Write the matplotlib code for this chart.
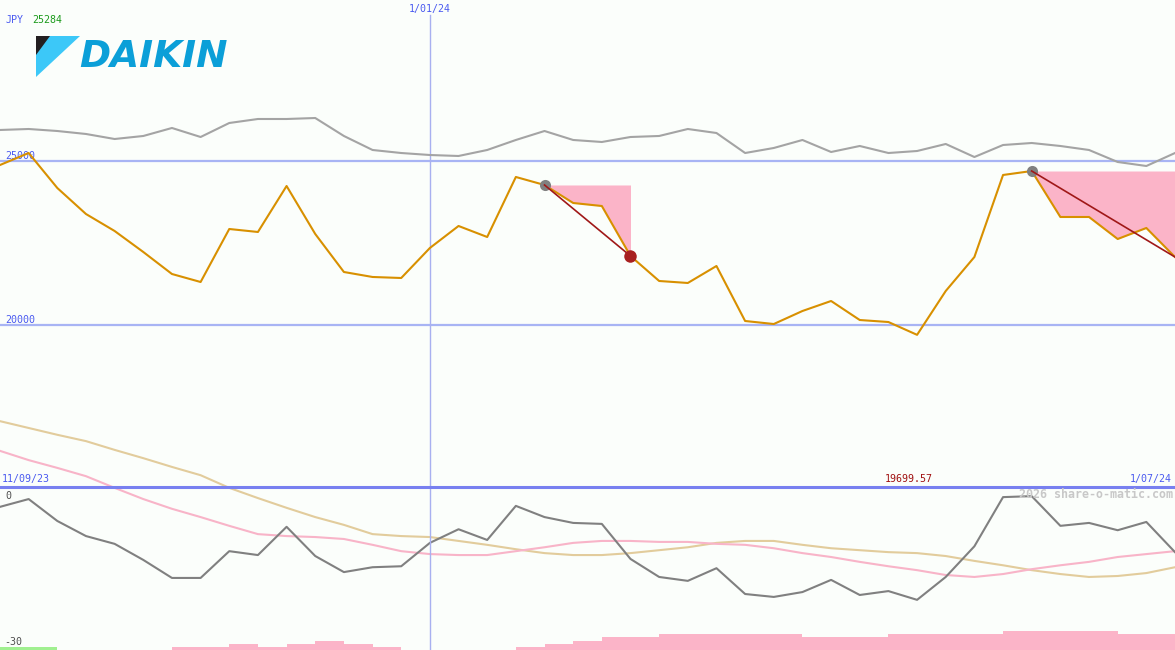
import numpy as np
import matplotlib
matplotlib.use("Agg")
from matplotlib import pyplot as plt
from matplotlib.lines import Line2D
from matplotlib.patches import Polygon

# weekly closes, Daikin (JPY), 11/09/23 .. 1/07/24
price = [24878, 25244, 24177, 23384, 22866, 22226, 21555, 21311, 22927, 22836,
         24238, 22775, 21616, 21464, 21433, 22348, 23019, 22683, 24513, 24269,
         23720, 23628, 22104, 21342, 21281, 21799, 20122, 20030, 20427, 20732,
         20152, 20091, 19700, 21037, 22073, 24574, 24695, 23293, 23293, 22622,
         22958, 22073]
# market index rebased to price scale
market = [25946, 25976, 25915, 25824, 25671, 25763, 26007, 25732, 26159, 26281,
          26281, 26311, 25763, 25336, 25244, 25183, 25153, 25336, 25641, 25915,
          25641, 25580, 25732, 25763, 25976, 25854, 25244, 25397, 25641, 25275,
          25458, 25244, 25305, 25519, 25122, 25488, 25549, 25458, 25336, 24970,
          24848, 25244]
# lower panel (%)
relative = [-1.2, 0.4, -4.1, -7.2, -8.8, -12.1, -15.8, -15.8, -10.3, -11.1,
            -5.3, -11.3, -14.6, -13.6, -13.4, -8.6, -5.8, -8.0, -1.0, -3.3,
            -4.5, -4.7, -11.9, -15.6, -16.4, -13.8, -19.1, -19.7, -18.7, -16.2,
            -19.3, -18.5, -20.3, -15.6, -9.3, 0.8, 1.0, -5.1, -4.5, -6.0,
            -4.3, -10.5]
ma_short = [10.3, 8.4, 6.8, 5.1, 2.7, 0.4, -1.6, -3.3, -5.1, -6.8,
            -7.2, -7.4, -7.8, -9.0, -10.3, -10.9, -11.1, -11.1, -10.3, -9.5,
            -8.6, -8.2, -8.2, -8.4, -8.4, -8.8, -9.0, -9.7, -10.7, -11.5,
            -12.5, -13.4, -14.2, -15.2, -15.6, -15.0, -14.0, -13.2, -12.5, -11.5,
            -10.9, -10.3]
ma_long = [16.4, 15.0, 13.6, 12.3, 10.5, 8.8, 7.0, 5.3, 2.7, 0.6,
           -1.4, -3.3, -4.9, -6.8, -7.2, -7.4, -8.2, -9.0, -9.9, -10.7,
           -11.1, -11.1, -10.7, -10.1, -9.5, -8.6, -8.2, -8.2, -9.0, -9.7,
           -10.1, -10.5, -10.7, -11.3, -12.3, -13.2, -14.2, -15.0, -15.6, -15.4,
           -14.8, -13.6]
volume = [1, 1, 0, 0, 0, 0, 1, 1, 2, 1,
          2, 3, 2, 1, 0, 0, 0, 0, 1, 2,
          3, 4, 4, 5, 5, 5, 5, 5, 4, 4,
          4, 5, 5, 5, 5, 6, 6, 6, 6, 5,
          5]
vol_up = [True, True] + [False] * 39

drawdowns = [(19, 22), (36, 41)]
low_label = "19699.57"
low_week = 32
year_week = 15
labels = {"start": "11/09/23", "end": "1/07/24", "year": "1/01/24"}

W, H = 1175, 650
bg = "#fbfefb"
blue_txt = "#4a5af0"
mono = "DejaVu Sans Mono"

fig = plt.figure(figsize=(W / 100, H / 100), dpi=100, facecolor=bg)
weeks = np.arange(len(price))

ax_vol = fig.add_axes([0, 0, 1, 1])
ax_rel = fig.add_axes([0, 0, 1, 1])
ax = fig.add_axes([0, 0, 1, 1])
for a in (ax_vol, ax_rel, ax):
    a.set_xlim(0, len(price) - 1)
    a.axis("off")
    a.patch.set_alpha(0)
ax_vol.set_ylim(0, 206)
ax_rel.set_ylim(-30.6, 102.9)
ax.set_ylim(10091, 29909)

# volume bars
ax_vol.bar(np.arange(len(volume)), volume, width=1.0, align="edge",
           color=["#a0f090" if u else "#fbb4c8" for u in vol_up], linewidth=0)

# lower panel
ax_rel.plot(weeks, ma_long, color="#e2cc9c", lw=1.5)
ax_rel.plot(weeks, ma_short, color="#f8b4c8", lw=1.5)
ax_rel.plot(weeks, relative, color="#808080", lw=1.5)
ax_rel.text(0.2, 0, "0", fontsize=7.2, family=mono, color="#505050", va="bottom")
ax_rel.text(0.15, -30, "-30", fontsize=7.2, family=mono, color="#505050", va="bottom")

# price panel
ax.axhline(25000, color="#a8b4f4", lw=1.6, zorder=1)
ax.axhline(20000, color="#a8b4f4", lw=1.6, zorder=1)
ax.axvline(year_week, ymin=0, ymax=1 - 15 / H, color="#a8b0f0", lw=1, zorder=1)
ax.text(0.2, 25000, "25000", fontsize=7.2, family=mono, color=blue_txt, va="bottom")
ax.text(0.2, 20000, "20000", fontsize=7.2, family=mono, color=blue_txt, va="bottom")
ax.plot(weeks, market, color="#a4a4a4", lw=1.5, zorder=2)

for start, end in drawdowns:
    seg = weeks[start:end + 1]
    ax.fill_between(seg, price[start], price[start:end + 1], color="#fbb4c8",
                    linewidth=0, zorder=2)
ax.plot(weeks, price, color="#d89000", lw=1.5, zorder=3)
for start, end in drawdowns:
    ax.plot([start, end], [price[start], price[end]], color="#a01818", lw=1.2, zorder=4)
    ax.plot(start, price[start], "o", color="#808080", ms=8, mew=0, zorder=3.5)
ax.plot(drawdowns[0][1], price[drawdowns[0][1]], "o", color="#a82020", ms=9, mew=0, zorder=5)

# separator between panels
fig.add_artist(Line2D([0, 1], [1 - 487 / H] * 2, color="#7880f0", lw=2.2))

# text labels
fig.text(6 / W, 1 - 20 / H, "JPY", fontsize=7.2, family=mono, color=blue_txt, va="center")
fig.text(32 / W, 1 - 20 / H, "25284", fontsize=7.2, family=mono, color="#1a9a1a", va="center")
ax.text(year_week, 1 - 9 / H, labels["year"], transform=ax.get_xaxis_transform(),
        fontsize=7.2, family=mono, color=blue_txt, ha="center", va="center")
fig.text(2 / W, 1 - 479 / H, labels["start"], fontsize=7.2, family=mono, color=blue_txt, va="center")
fig.text(1172 / W, 1 - 479 / H, labels["end"], fontsize=7.2, family=mono, color=blue_txt,
         va="center", ha="right")
ax.text(low_week - 0.3, 1 - 479 / H, low_label, transform=ax.get_xaxis_transform(),
        fontsize=7.2, family=mono, color="#a01010", ha="center", va="center")
fig.text(1173 / W, 1 - 495 / H, "2026 share-o-matic.com", fontsize=8.4, family=mono,
         weight="bold", color="#c8c8c8", ha="right", va="center", zorder=10)

# DAIKIN logo
def px(pts):
    return [(x / W, 1 - y / H) for x, y in pts]

fig.add_artist(Polygon(px([(36, 36), (80, 36), (36, 77)]), closed=True,
                       transform=fig.transFigure, color="#3cc8f8", lw=0))
fig.add_artist(Polygon(px([(36, 36), (50, 36), (36, 55)]), closed=True,
                       transform=fig.transFigure, color="#231f20", lw=0))
fig.text(79 / W, 1 - 67 / H, "DAIKIN", fontsize=27, weight="bold", style="italic",
         family="DejaVu Sans", color="#0b9fd8", va="baseline")

fig.savefig("out.png", dpi=100, facecolor=bg)
